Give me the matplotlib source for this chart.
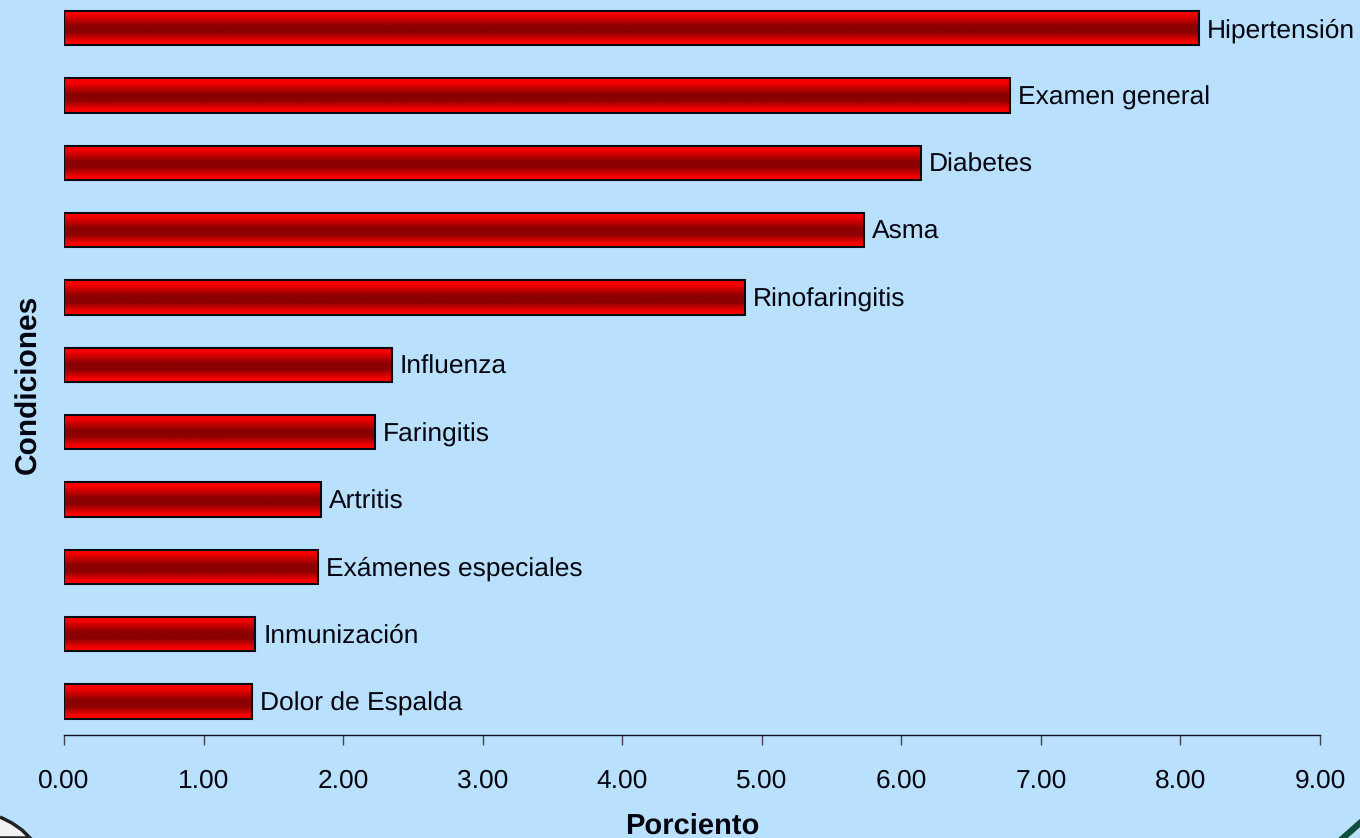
import numpy as np
import matplotlib
matplotlib.use("Agg")
import matplotlib.pyplot as plt
from matplotlib.colors import LinearSegmentedColormap
from matplotlib.lines import Line2D
from matplotlib.patches import Polygon, Rectangle

plt.rcParams["font.family"] = ["Liberation Sans", "DejaVu Sans"]
plt.rcParams["text.hinting"] = "no_hinting"

W, H = 1360, 838
BG = "#b9e1fe"
INK = "#050510"
BAR_HEIGHT = 0.51

conditions = ["Dolor de Espalda", "Inmunización", "Exámenes especiales", "Artritis",
              "Faringitis", "Influenza", "Rinofaringitis", "Asma", "Diabetes",
              "Examen general", "Hipertensión"]
percent = [1.35, 1.37, 1.82, 1.84, 2.23, 2.35, 4.88, 5.73, 6.14, 6.78, 8.13]
xticks = [0, 1, 2, 3, 4, 5, 6, 7, 8, 9]

cmap = LinearSegmentedColormap.from_list(
    "bar", [(0, "#ff0000"), (0.14, "#f20000"), (0.46, "#8b0000"), (0.64, "#8b0000"),
            (0.9, "#f60000"), (1, "#ff0000")])
grad = np.linspace(0, 1, 128).reshape(-1, 1)

fig = plt.figure(figsize=(W / 100, H / 100), dpi=100, facecolor=BG)
ax = fig.add_axes([64 / W, (H - 735) / H, (1320 - 64) / W, 735 / H])
ax.patch.set_alpha(0)

for i, (name, val) in enumerate(zip(conditions, percent)):
    ax.imshow(grad, cmap=cmap, aspect="auto", zorder=2, interpolation="bilinear",
              extent=(0, val, i - BAR_HEIGHT / 2, i + BAR_HEIGHT / 2))
    ax.add_patch(Rectangle((0, i - BAR_HEIGHT / 2), val, BAR_HEIGHT, fill=False,
                           ec="#0a0a14", lw=1.5, zorder=3))
    ax.annotate(name, (val, i), xytext=(8, -9), textcoords="offset pixels",
                va="baseline", ha="left", fontsize=19, color=INK, clip_on=False)

ax.set_xlim(0, 9)
ax.set_ylim(-0.5, 10 + 28.3 / 67.3)
ax.set_xticks(xticks)
ax.set_xticklabels([f"{v:.2f}" for v in xticks], fontsize=19, color=INK)
ax.set_yticks([])
for side in ["top", "right", "left"]:
    ax.spines[side].set_visible(False)
ax.spines["bottom"].set_color("#111122")
ax.spines["bottom"].set_linewidth(1.0)
ax.tick_params(axis="x", direction="out", length=7, width=1.0, color="#444455", pad=17.5)

fig.text(692 / W, 1 - 834 / H, "Porciento", ha="center", va="baseline",
         fontsize=21, fontweight="bold", color=INK)
fig.text(29 / W, 1 - 384 / H, "Condiciones", ha="center", va="center", rotation=90,
         fontsize=21.5, fontweight="bold", color=INK)

# corners of the logos cut off by the slide edge
left_corner = [(0, 817), (12, 823), (22, 830), (30, 838), (0, 838)]
fig.add_artist(Polygon([(x / W, 1 - y / H) for x, y in left_corner], closed=False,
                       transform=fig.transFigure, fc="#f2f2f2", ec="#222222", lw=2.5))
fig.add_artist(Line2D([1343 / W, 1360 / W], [1 - 838 / H, 1 - 823 / H],
                      color="#0f4f3f", lw=4.5))

fig.savefig("out.png", dpi=100, facecolor=BG)
